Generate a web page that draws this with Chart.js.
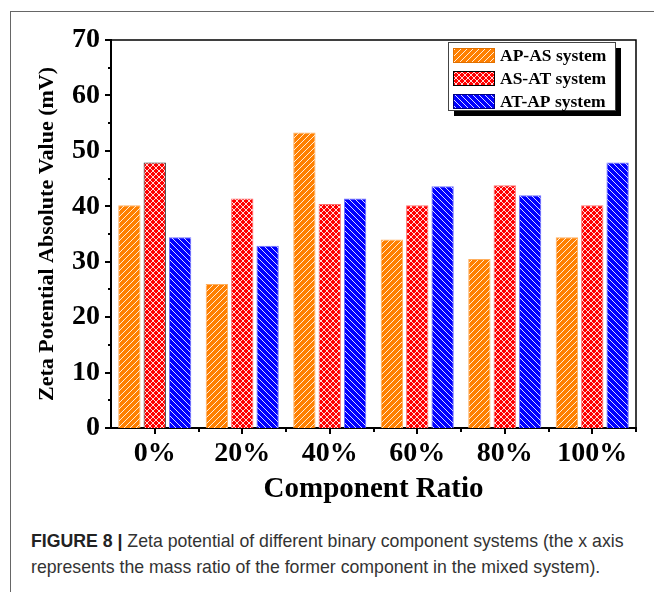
<!DOCTYPE html>
<html>
<head>
<meta charset="utf-8">
<script src="https://cdn.jsdelivr.net/npm/chart.js@4"></script>
<style>
  body { margin: 0; background: #fff; width: 654px; height: 592px; overflow: hidden; position: relative; }
  #frame { position: absolute; left: 10px; top: 11px; width: 700px; height: 700px;
           border-left: 1px solid #666; border-top: 1px solid #666; }
  #chart { position: absolute; left: 0; top: 0; }
  #caption { position: absolute; left: 31px; top: 528px; width: 620px;
             font-family: 'Liberation Sans', Arial, sans-serif; font-size: 17.7px;
             line-height: 26px; color: #333; white-space: nowrap; }
  #caption b { color: #222; }
</style>
</head>
<body>
<div id="frame"></div>
<canvas id="chart" width="654" height="510"></canvas>
<div id="caption"><b>FIGURE 8 |</b> Zeta potential of different binary component systems (the x axis<br>represents the mass ratio of the former component in the mixed system).</div>
<script>
const categories = ['0%', '20%', '40%', '60%', '80%', '100%'];
const seriesNames = ['AP-AS system', 'AS-AT system', 'AT-AP system'];
const apAs = [40.2, 26.0, 53.3, 34.0, 30.5, 34.4];
const asAt = [47.9, 41.4, 40.4, 40.2, 43.8, 40.2];
const atAp = [34.4, 32.9, 41.4, 43.6, 42.0, 47.9];
const yTicks = [0, 10, 20, 30, 40, 50, 60, 70];

const serif = "'Liberation Serif', 'Times New Roman', serif";

// hatch fills
const makePattern = (base, kind) => {
  const size = 6;
  const c = document.createElement('canvas');
  c.width = size; c.height = size;
  const g = c.getContext('2d');
  g.fillStyle = base;
  g.fillRect(0, 0, size, size);
  g.strokeStyle = 'rgba(255,255,255,0.85)';
  g.lineWidth = 1;
  const fwd = () => {
    g.beginPath();
    g.moveTo(-1, size + 1); g.lineTo(size + 1, -1);
    g.moveTo(-1, 1); g.lineTo(1, -1);
    g.moveTo(size - 1, size + 1); g.lineTo(size + 1, size - 1);
    g.stroke();
  };
  const back = () => {
    g.beginPath();
    g.moveTo(-1, -1); g.lineTo(size + 1, size + 1);
    g.moveTo(size - 1, -1); g.lineTo(size + 1, 1);
    g.moveTo(-1, size - 1); g.lineTo(1, size + 1);
    g.stroke();
  };
  if (kind === 'fwd') fwd();
  if (kind === 'back') back();
  if (kind === 'cross') { fwd(); back(); }
  return c.getContext('2d').createPattern(c, 'repeat');
};

const orangeFill = makePattern('#ff8000', 'fwd');
const redFill = makePattern('#ff0000', 'cross');
const blueFill = makePattern('#0000ff', 'back');

// minor ticks, box top/right edges
const axisExtras = {
  id: 'axisExtras',
  afterDraw(chart) {
    const { ctx, chartArea: a, scales: { x, y } } = chart;
    ctx.save();
    ctx.strokeStyle = '#000';
    ctx.lineWidth = 1.5;
    ctx.beginPath();
    ctx.moveTo(a.left, a.top); ctx.lineTo(a.right, a.top); ctx.lineTo(a.right, a.bottom);
    ctx.stroke();
    ctx.lineWidth = 2;
    ctx.beginPath();
    for (let v = 0; v <= 70; v += 5) {
      const py = Math.round(y.getPixelForValue(v));
      const len = v % 10 === 0 ? 6 : 3;
      ctx.moveTo(a.left - len, py); ctx.lineTo(a.left, py);
    }
    categories.forEach((c, i) => {
      const px = Math.round(x.getPixelForValue(i));
      ctx.moveTo(px, a.bottom); ctx.lineTo(px, a.bottom + 6);
      const bx = Math.round(x.getPixelForValue(i + 0.5));
      ctx.moveTo(bx, a.bottom); ctx.lineTo(bx, a.bottom + 4);
    });
    ctx.stroke();
    ctx.restore();
  }
};

// boxed legend with a drop shadow
const boxLegend = {
  id: 'boxLegend',
  afterDraw(chart) {
    const { ctx, chartArea: a } = chart;
    const w = 167, h = 68;
    const left = a.right - 188, top = a.top + 2;
    ctx.save();
    ctx.fillStyle = '#000';
    ctx.fillRect(left + 6, top + 6, w, h);
    ctx.fillStyle = '#fff';
    ctx.fillRect(left, top, w, h);
    ctx.strokeStyle = '#444';
    ctx.lineWidth = 1;
    ctx.strokeRect(left + 0.5, top + 0.5, w, h);
    ctx.font = 'bold 17.5px ' + serif;
    ctx.textBaseline = 'middle';
    chart.data.datasets.forEach((ds, i) => {
      const ry = top + 6 + i * 23;
      ctx.fillStyle = ds.backgroundColor;
      ctx.fillRect(left + 5, ry, 42, 15);
      ctx.strokeStyle = ds.legendBorder;
      ctx.strokeRect(left + 5.5, ry + 0.5, 41, 14);
      ctx.fillStyle = '#000';
      ctx.fillText(ds.label, left + 52, ry + 8);
    });
    ctx.restore();
  }
};

new Chart(document.getElementById('chart'), {
  type: 'bar',
  data: {
    labels: categories,
    datasets: [
      { label: seriesNames[0], data: apAs, backgroundColor: orangeFill,
        borderColor: '#ffb060', borderWidth: 1, legendBorder: '#e07000' },
      { label: seriesNames[1], data: asAt, backgroundColor: redFill,
        borderColor: asAt.map((v, i) => i === 0 ? '#333' : '#ff7070'), borderWidth: 1, legendBorder: '#000' },
      { label: seriesNames[2], data: atAp, backgroundColor: blueFill,
        borderColor: '#7070ff', borderWidth: 1, legendBorder: '#000080' }
    ]
  },
  options: {
    responsive: false,
    animation: false,
    layout: { padding: { left: 0, top: 40, right: 18, bottom: 0 } },
    datasets: { bar: { categoryPercentage: 0.87, barPercentage: 0.88 } },
    plugins: {
      legend: { display: false },
      tooltip: { enabled: false }
    },
    scales: {
      x: {
        grid: { display: false, drawTicks: true, tickLength: 6 },
        border: { display: true, color: '#000', width: 2 },
        ticks: { color: '#000', padding: 3, font: { family: serif, size: 28, weight: 'bold' } },
        title: {
          display: true, text: 'Component Ratio', color: '#000',
          font: { family: serif, size: 29, weight: 'bold' }, padding: { top: 3, bottom: 3 }
        },
        afterFit: s => { s.height = 82; }
      },
      y: {
        min: 0, max: 70,
        grid: { display: false, drawTicks: true, tickLength: 6 },
        border: { display: true, color: '#000', width: 2 },
        ticks: {
          stepSize: 5, color: '#000', padding: 5,
          font: { family: serif, size: 28, weight: 'bold' },
          callback: v => yTicks.includes(v) ? v : ''
        },
        title: {
          display: true, text: 'Zeta Potential Absolute Value (mV)', color: '#000',
          font: { family: serif, size: 22, weight: 'bold' }, padding: { top: 34, bottom: 34 }
        },
        afterFit: s => { s.width = 111; }
      }
    }
  },
  plugins: [axisExtras, boxLegend]
});
</script>
</body>
</html>
